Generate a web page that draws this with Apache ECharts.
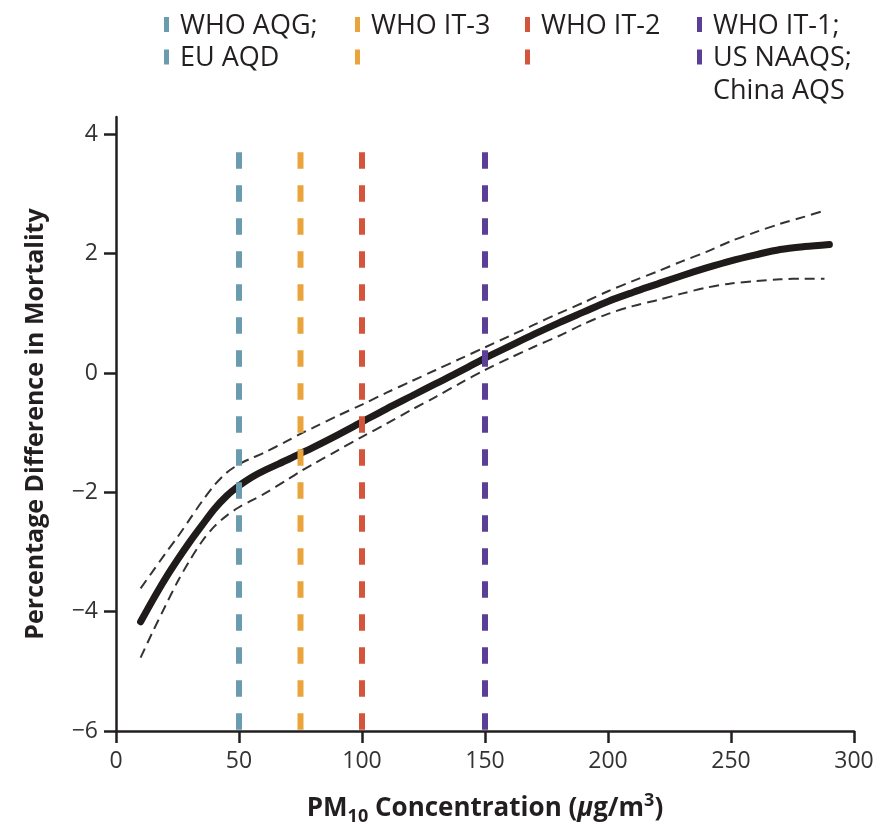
<!DOCTYPE html>
<html>
<head>
<meta charset="utf-8">
<script src="https://cdn.jsdelivr.net/npm/echarts@6/dist/echarts.min.js"></script>
<style>
html,body{margin:0;padding:0;background:#fff;}
#chart{width:881px;height:831px;}
</style>
</head>
<body>
<div id="chart"></div>
<script>
// ---- data ----
const xMain = [10,15,20,25,30,35,40,45,50,55,60,70,75,80,90,100,110,120,130,140,150,160,170,180,190,200,210,220,230,240,250,260,270,280,290];
const yMain = [-4.17,-3.80,-3.45,-3.13,-2.83,-2.55,-2.28,-2.06,-1.89,-1.75,-1.64,-1.45,-1.35,-1.25,-1.04,-0.82,-0.60,-0.39,-0.18,0.03,0.25,0.45,0.65,0.84,1.02,1.20,1.35,1.49,1.63,1.76,1.88,1.98,2.07,2.12,2.155];

const xCI = [10,15,20,25,30,35,40,45,50,55,60,70,75,80,90,100,110,120,130,140,150,160,170,180,190,200,210,220,230,240,250,260,270,280,288];
const yUpper = [-3.61,-3.32,-3.03,-2.75,-2.45,-2.15,-1.88,-1.67,-1.53,-1.43,-1.34,-1.13,-1.02,-0.92,-0.72,-0.53,-0.33,-0.14,0.05,0.24,0.43,0.62,0.81,1.00,1.18,1.37,1.54,1.70,1.87,2.03,2.21,2.36,2.50,2.62,2.72];
const yLower = [-4.77,-4.33,-3.91,-3.50,-3.14,-2.82,-2.57,-2.39,-2.25,-2.14,-2.03,-1.78,-1.65,-1.53,-1.30,-1.07,-0.85,-0.62,-0.40,-0.17,0.05,0.25,0.44,0.62,0.82,0.99,1.12,1.22,1.33,1.43,1.50,1.54,1.57,1.58,1.58];

const standardValues = [50, 75, 100, 150];
const standardColors = ['#6b9bae', '#e9a43c', '#d2553c', '#5b3f96'];
const standardTop = 3.7;
const standardBottom = -6;

const legendLines = [
  ['WHO AQG;', 'EU AQD'],
  ['WHO IT-3', ''],
  ['WHO IT-2', ''],
  ['WHO IT-1;', 'US NAAQS;', 'China AQS']
];
const legendMarkers = [2, 2, 2, 2];

const xTicks = [0, 50, 100, 150, 200, 250, 300];
const yTicks = [-6, -4, -2, 0, 2, 4];

// ---- chart ----
const FONT = '"Open Sans", "Noto Sans", sans-serif';
const TXT = '#231f20';
const chart = echarts.init(document.getElementById('chart'), null, {renderer: 'canvas'});

const zip = (xs, ys) => xs.map((x, i) => [x, ys[i]]);

const series = [
  {
    type: 'line', data: zip(xCI, yUpper), smooth: 0.3, showSymbol: false, silent: true,
    lineStyle: {color: '#333', width: 2, type: [10, 6]}, z: 2
  },
  {
    type: 'line', data: zip(xCI, yLower), smooth: 0.3, showSymbol: false, silent: true,
    lineStyle: {color: '#333', width: 2, type: [10, 6]}, z: 2
  },
  {
    type: 'line', data: zip(xMain, yMain), smooth: 0.3, showSymbol: false, silent: true,
    lineStyle: {color: '#1f1b1a', width: 7, cap: 'round', join: 'round'}, z: 3
  }
];
standardValues.forEach((v, i) => {
  series.push({
    type: 'line', data: [[v, standardTop], [v, standardBottom]], showSymbol: false, silent: true,
    lineStyle: {color: standardColors[i], width: 6, type: [16.5, 16.5], cap: 'butt'}, z: 4
  });
});

// legend as graphics
const legendX = [164, 355, 525, 697];
const graphics = [];
const rowBase = 26;
const rowGap = 32.5;
legendLines.forEach((lines, c) => {
  lines.forEach((t, r) => {
    if (r < legendMarkers[c]) {
      graphics.push({type: 'rect', left: legendX[c], top: 17 + r * rowGap, shape: {width: 5, height: 15},
        style: {fill: standardColors[c]}});
    }
    if (t) {
      graphics.push({type: 'text', x: legendX[c] + 16, y: rowBase + r * rowGap,
        style: {text: t, font: '27px ' + FONT, fill: TXT, verticalAlign: 'middle', align: 'left'}});
    }
  });
});

const minus = v => String(v).replace('-', '\u2212');

chart.setOption({
  animation: false,
  backgroundColor: '#fff',
  grid: {left: 116, top: 117, width: 738, height: 614, containLabel: false, outerBoundsMode: 'none'},
  xAxis: {
    type: 'value', min: 0, max: 300, interval: 50,
    axisLine: {show: true, onZero: false, lineStyle: {color: TXT, width: 2.5}},
    axisTick: {show: true, length: 12, lineStyle: {color: TXT, width: 2.5}, customValues: xTicks},
    axisLabel: {margin: 19, fontSize: 23, fontFamily: FONT, color: '#333', customValues: xTicks, formatter: minus},
    splitLine: {show: false},
    name: '{b|PM}{sub|10}{b| Concentration (}{it|\u03bc}{b|g/m}{sup|3}{b|)}',
    nameLocation: 'middle', nameGap: 61,
    nameTextStyle: {
      rich: {
        b: {fontSize: 26, fontWeight: 'bold', fontFamily: FONT, color: TXT, lineHeight: 34},
        it: {fontSize: 26, fontWeight: 'bold', fontStyle: 'italic', fontFamily: FONT, color: TXT, lineHeight: 34},
        sub: {fontSize: 18, fontWeight: 'bold', fontFamily: FONT, color: TXT, lineHeight: 18, verticalAlign: 'bottom'},
        sup: {fontSize: 18, fontWeight: 'bold', fontFamily: FONT, color: TXT, lineHeight: 18, verticalAlign: 'top'}
      }
    }
  },
  yAxis: {
    type: 'value', min: -6, max: 4.29, interval: 2,
    axisLine: {show: true, onZero: false, lineStyle: {color: TXT, width: 2.5}},
    axisTick: {show: true, length: 12, lineStyle: {color: TXT, width: 2.5}, customValues: yTicks},
    axisLabel: {margin: 18, fontSize: 23, fontFamily: FONT, color: '#333', customValues: yTicks, formatter: minus},
    splitLine: {show: false},
    name: 'Percentage Difference in Mortality',
    nameLocation: 'middle', nameGap: 68, nameRotate: 90,
    nameTextStyle: {fontSize: 25, fontWeight: 'bold', fontFamily: FONT, color: TXT}
  },
  series: series,
  graphic: graphics
});
</script>
</body>
</html>
